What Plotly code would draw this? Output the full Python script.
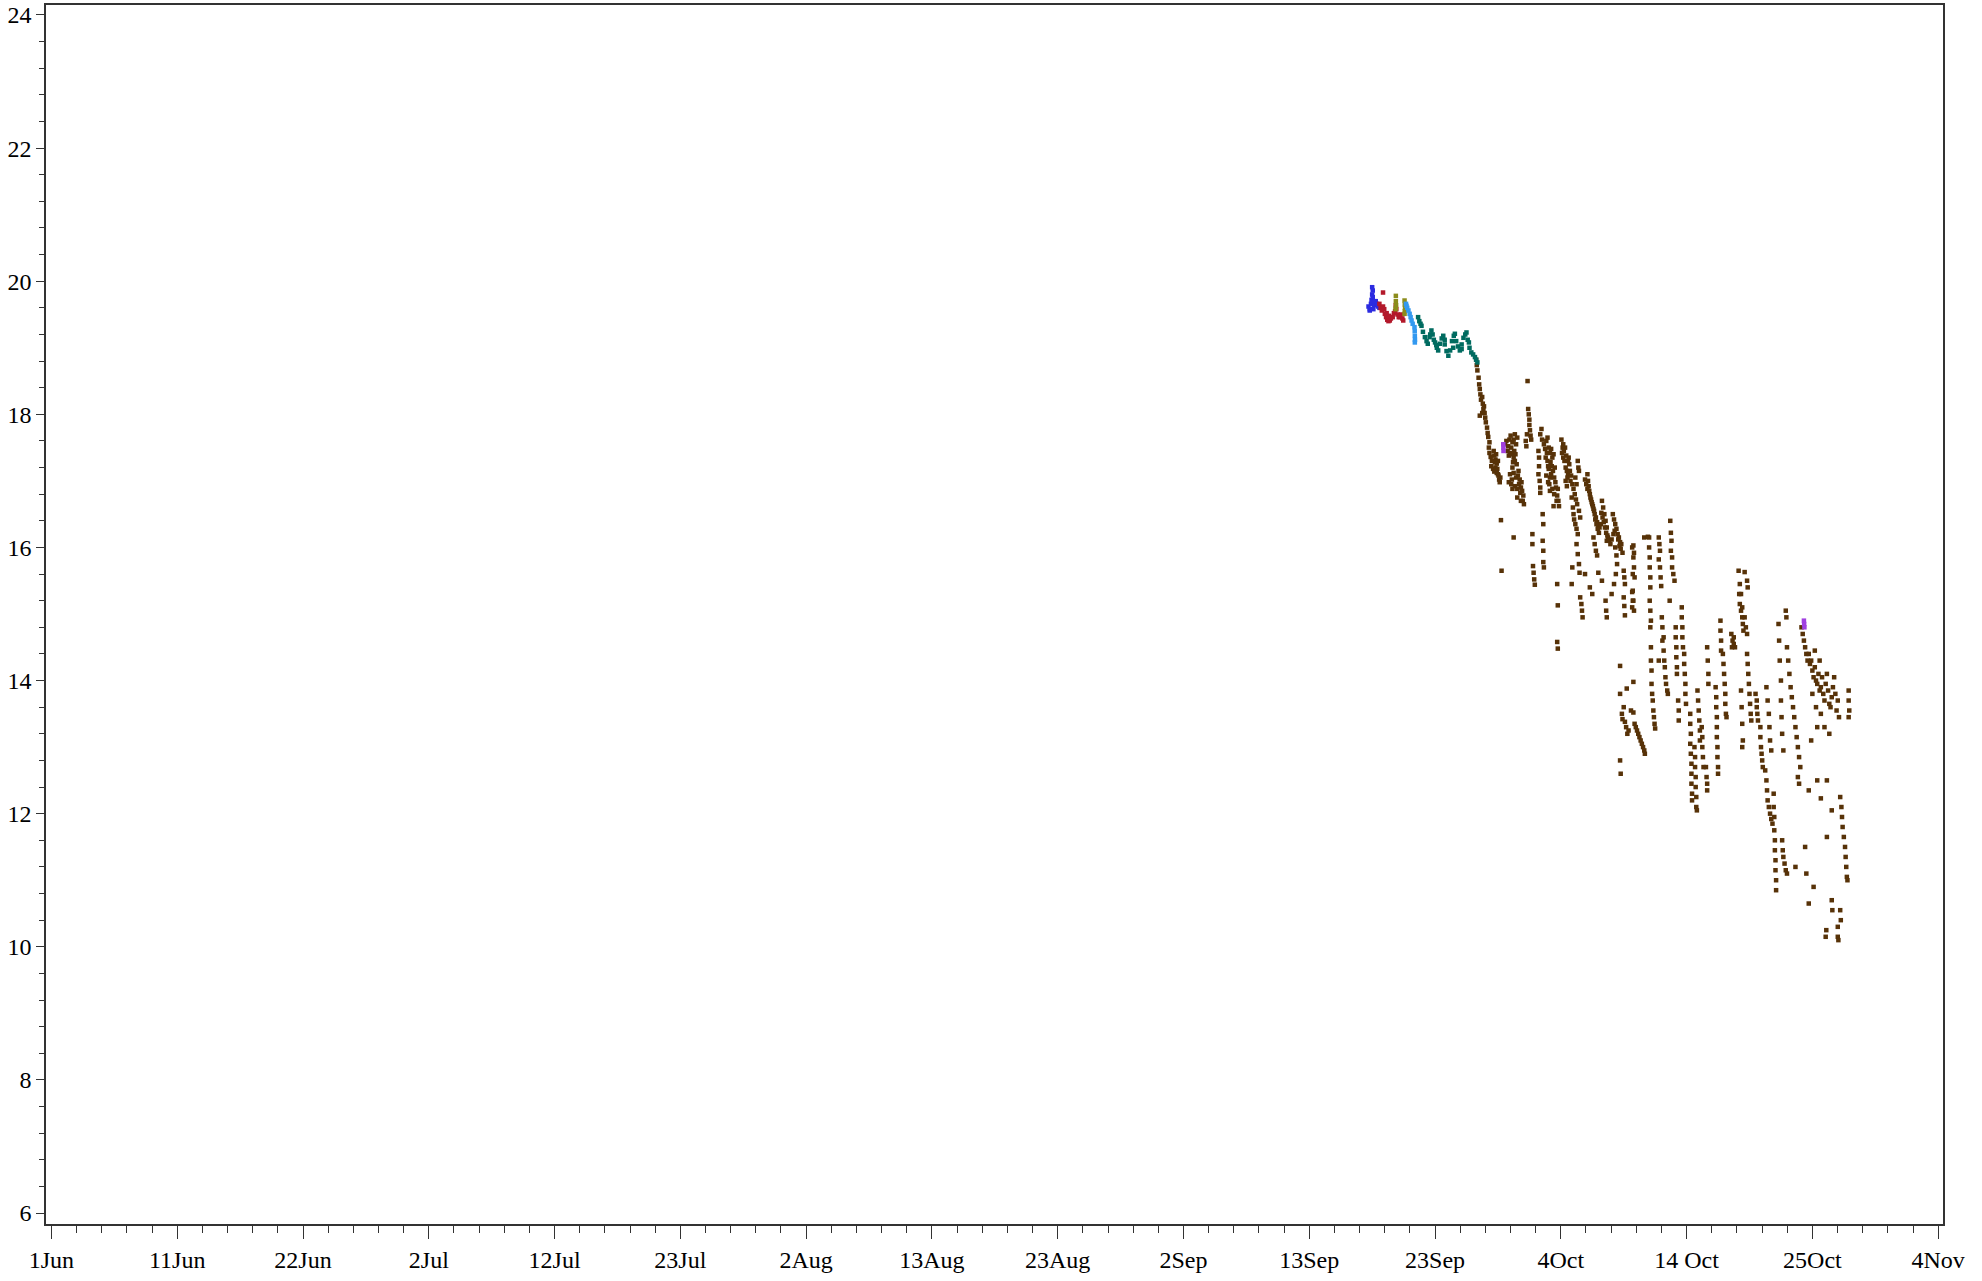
import plotly.graph_objects as go

# x = days since 1 Jun, y = value
tick_labels = ["1Jun", "11Jun", "22Jun", "2Jul", "12Jul", "23Jul", "2Aug", "13Aug",
               "23Aug", "2Sep", "13Sep", "23Sep", "4Oct", "14 Oct", "25Oct", "4Nov"]
tick_positions = [0, 10.4, 20.8, 31.2, 41.6, 52, 62.4, 72.8, 83.2, 93.6, 104, 114.4,
                  124.8, 135.2, 145.6, 156]

blue_x = [108.9, 109.0, 109.1, 109.15, 109.2, 109.25, 109.2, 109.25, 109.3, 109.35,
          109.45, 109.5, 109.6, 109.7, 109.8, 109.0, 109.3, 109.4]
blue_y = [19.62, 19.58, 19.66, 19.72, 19.8, 19.86, 19.91, 19.76, 19.68, 19.64,
          19.66, 19.7, 19.66, 19.62, 19.6, 19.56, 19.58, 19.7]

red_x = [109.8, 109.9, 110.0, 110.1, 110.1, 110.25, 110.35, 110.45, 110.55, 110.66,
         110.75, 110.9, 111.0, 111.1, 111.2, 111.3, 111.4, 111.5, 111.6, 111.7,
         111.77, 110.2, 110.4, 110.6, 111.15]
red_y = [19.66, 19.6, 19.56, 19.62, 19.83, 19.51, 19.46, 19.42, 19.4, 19.41,
         19.44, 19.46, 19.52, 19.55, 19.58, 19.5, 19.46, 19.46, 19.5, 19.44,
         19.41, 19.58, 19.52, 19.48, 19.64]

olive_x = [111.16, 111.16, 111.18, 111.16, 111.14, 111.88, 111.9, 111.92, 111.9, 111.88]
olive_y = [19.78, 19.7, 19.64, 19.6, 19.58, 19.71, 19.65, 19.6, 19.55, 19.51]

lblue_x = [112.0, 112.04, 112.1, 112.2, 112.3, 112.38, 112.46, 112.55, 112.7, 112.72,
           112.73, 112.74, 112.73]
lblue_y = [19.66, 19.63, 19.6, 19.56, 19.51, 19.46, 19.41, 19.36, 19.31, 19.25,
           19.18, 19.12, 19.08]

teal_x = [113.0, 113.1, 113.2, 113.28, 113.4, 113.56, 113.7, 113.8, 113.95, 114.1,
          114.2, 114.3, 114.4, 114.55, 114.66, 114.8, 114.95, 115.08, 115.2, 115.35,
          115.5, 115.65, 115.8, 115.95, 116.04, 116.15, 116.3, 116.45, 116.6, 116.75,
          116.9, 117.0, 117.1, 117.25, 117.4, 117.55, 117.7, 117.8, 117.9, 114.0,
          114.5, 115.2, 115.9, 116.6, 117.2]
teal_y = [19.46, 19.4, 19.36, 19.33, 19.24, 19.16, 19.1, 19.06, 19.16, 19.26,
          19.2, 19.12, 19.08, 19.0, 18.96, 19.06, 19.14, 19.18, 19.05, 18.95,
          18.88, 18.96, 19.1, 19.18, 19.21, 19.1, 19.02, 18.96, 19.05, 19.15,
          19.2, 19.23, 19.12, 19.0, 18.93, 18.9, 18.86, 18.82, 18.78, 19.2,
          19.04, 19.12, 19.0, 18.98, 19.08]

purple_x = [120.04, 120.05, 120.06, 144.9, 144.92, 144.94]
purple_y = [17.55, 17.5, 17.45, 14.9, 14.85, 14.8]

brown_x = [
    117.8, 117.85, 117.9, 118.0, 118.05, 118.1, 118.15, 118.2, 118.3, 118.35,
    118.4, 118.45, 118.5, 118.55, 118.6, 118.3, 118.7, 118.75, 118.8, 118.9,
    118.85, 118.9, 119.0, 119.1, 119.05, 119.2, 119.3, 119.4, 119.5, 119.35,
    119.6, 119.45, 118.1,
    120.2, 120.4, 120.5, 120.6, 120.7, 120.8, 120.9, 121.0, 121.1, 121.2,
    120.9, 121.0, 120.8, 120.9, 121.1, 121.3, 121.4, 121.5, 121.6, 121.7,
    121.5, 120.7, 120.8, 121.2,
    119.85, 119.9, 120.9, 122.05,
    122.1, 122.15, 122.2, 122.2, 122.25, 122.3, 122.35, 122.0, 121.9, 121.95,
    122.45, 122.45, 122.5, 122.55, 122.6, 122.65,
    123.2, 122.95, 123.0, 123.0, 122.95, 123.05, 123.1, 123.1, 123.3, 123.35,
    123.3, 123.35, 123.35, 123.4,
    123.6, 123.7, 123.8, 123.9, 124.0, 124.1, 124.2, 123.7, 123.8, 123.9,
    123.85, 124.0, 124.3, 124.4, 124.5, 124.45, 123.9, 124.2,
    124.5, 124.55, 124.5, 124.55,
    124.9, 125.0, 125.1, 125.0, 125.15, 125.2, 125.3, 125.4, 125.5, 125.35,
    125.6, 125.45,
    125.7, 125.8, 125.85, 125.9, 126.0, 126.1, 126.2, 125.75, 125.7,
    126.4, 126.5, 126.55, 126.6,
    126.2, 126.25, 126.3,
    126.1, 126.2, 126.3, 126.35,
    127.0, 127.05, 127.1, 127.15, 127.2, 127.3, 127.4, 127.5, 127.6, 127.7,
    127.8, 127.9, 128.0, 127.5, 127.6, 127.7, 127.8, 128.2, 128.3, 128.4,
    128.5, 128.6, 128.7, 128.6,
    129.1, 129.2, 129.3, 129.4, 129.5, 129.6, 129.7, 129.8, 129.3, 129.4,
    129.45, 130.0, 130.05, 130.1, 130.0, 130.05, 130.1, 130.7, 130.75, 130.7,
    130.8, 130.85, 130.75,
    129.7, 129.7, 129.7, 129.75,
    129.85, 129.9, 130.0, 130.1, 130.2, 130.3, 130.4, 130.6, 130.8, 130.9,
    131.0, 131.1, 131.2, 131.3, 131.4, 131.5, 131.6, 131.7, 131.75,
    130.8, 130.25,
    130.7, 130.8, 130.85, 130.9, 130.75, 130.8, 130.85,
    131.7, 132.0,
    132.1, 132.1, 132.15, 132.15, 132.2, 132.2, 132.15, 132.2, 132.25, 132.2,
    132.25, 132.25, 132.3, 132.3, 132.35, 132.4, 132.45, 132.5, 132.55, 132.6,
    132.9, 132.95, 133.0, 132.9, 133.0, 133.05, 133.1, 133.15, 133.2, 133.2,
    133.3, 133.35, 133.4, 133.45, 133.5, 133.6, 133.65, 132.9, 133.3,
    133.85, 133.9, 133.95, 133.9, 134.0, 134.0, 134.1, 134.2, 133.8,
    134.3, 134.3, 134.35, 134.35, 134.4, 134.4, 134.5, 134.55, 134.55, 134.8,
    134.8, 134.85, 134.85, 134.9, 135.0, 135.0, 135.05, 135.1, 135.1, 135.15,
    135.5, 135.5, 135.55, 135.5, 135.55, 135.6, 135.6, 135.6, 135.65, 135.65,
    135.85, 135.9, 135.9, 135.95, 135.95, 136.0, 136.0, 136.05, 136.1, 136.15,
    136.2, 136.25, 136.3, 136.3,
    136.45, 136.5, 136.5, 136.55, 136.6, 136.8, 136.85, 136.9, 136.9,
    136.9, 136.95, 137.0, 137.0,
    137.6, 137.65, 137.65, 137.7, 137.7, 137.7, 137.75, 137.75, 137.8, 137.8,
    138.0, 138.0, 138.05, 138.05, 138.2, 138.25, 138.3, 138.35, 138.4, 138.4,
    138.45, 138.5,
    138.9, 139.0, 139.1, 139.2, 138.95, 139.1,
    139.5, 139.6, 139.55, 139.6, 139.7, 139.8, 139.85, 139.9, 140.0, 140.2, 140.25,
    139.7, 139.75, 139.8, 139.85, 139.8,
    139.7, 139.8, 140.0, 140.1, 140.2,
    140.2, 140.25, 140.3, 140.35, 140.4, 140.45, 140.5, 140.55,
    140.9, 141.0, 141.0, 141.05, 141.1, 141.3, 141.3, 141.35, 141.4, 141.45, 141.5,
    141.7, 141.8, 141.85, 141.9, 142.0, 142.1, 142.2, 142.3,
    142.4, 142.4, 142.45, 142.45, 142.5, 142.5, 142.55, 142.55, 142.6, 142.6,
    143.1, 143.15, 143.2, 143.3, 143.4, 143.5,
    141.8, 141.9, 142.0, 142.05, 142.1, 142.2,
    142.8, 142.85, 142.9, 143.0, 143.0, 143.05, 143.1, 143.2,
    143.4, 143.45, 143.5, 143.6, 143.7, 143.8, 143.9, 144.0, 144.1, 144.2,
    144.3, 144.4, 144.5, 144.6, 144.4, 144.5,
    144.7, 144.8, 144.9, 145.0, 145.1, 145.2, 145.4,
    145.3, 145.5, 145.6, 145.7, 145.8, 145.9, 146.0, 146.1, 146.2, 146.3,
    146.4, 146.5, 146.6, 146.7, 146.8, 146.9, 147.0, 147.1, 147.2, 147.3,
    147.4, 147.5, 147.6, 147.7, 147.8, 145.6, 145.9, 146.3, 146.0, 145.5,
    146.6, 147.0, 146.2, 145.8,
    148.6, 148.6, 148.65, 148.6,
    147.9, 148.0, 148.05, 148.1, 148.2, 148.3, 148.35, 148.4, 148.45, 148.5,
    145.0, 144.2, 145.1, 145.7, 145.3, 146.3, 146.8, 145.3, 146.0, 147.2, 146.8,
    147.2, 147.25, 146.7, 146.75, 147.7, 147.75, 147.7, 147.9, 147.95,
    # denser clusters
    119.25, 119.3, 119.4, 119.5, 119.55, 119.65, 119.7, 119.75, 119.6, 119.8,
    120.3, 120.45, 120.55, 120.65, 120.75, 120.85, 120.95, 121.05, 121.15, 121.25,
    121.35, 121.45, 121.55, 121.65, 121.75, 120.6, 120.75, 121.0, 121.2, 120.5,
    123.1, 123.25, 123.4, 123.5, 123.55, 123.65, 123.75, 123.95, 124.05, 124.15,
    124.25, 124.35, 124.1, 124.25, 123.6, 123.75, 124.55, 124.6, 124.65,
    124.85, 124.95, 125.05, 125.25, 125.4, 125.55, 125.65, 125.75, 125.85, 125.95,
    126.05, 126.15, 126.3, 126.4, 125.2, 125.3, 126.0, 126.1,
    126.8, 126.9, 127.0, 127.25, 127.35, 127.45, 127.55, 127.65, 127.75, 127.85,
    127.95, 128.1, 128.15, 128.25, 128.35, 128.45, 128.55, 128.65, 128.8, 128.9,
    129.0, 129.15, 129.25, 129.55, 129.65, 129.75, 129.9,
    126.8, 127.2, 127.4, 127.9, 128.2, 128.5, 128.55, 128.6, 129.0, 129.2, 129.35,
]
brown_y = [
    18.82, 18.74, 18.66, 18.55, 18.45, 18.38, 18.3, 18.22, 18.26, 18.16,
    18.08, 18.12, 18.02, 17.95, 17.88, 18.02, 17.8, 17.72, 17.66, 17.58,
    17.5, 17.42, 17.36, 17.3, 17.22, 17.18, 17.14, 17.2, 17.12, 17.28,
    17.1, 17.4, 17.98,
    17.55, 17.45, 17.38, 17.42, 17.5, 17.58, 17.62, 17.7, 17.55, 17.65,
    17.35, 17.3, 17.2, 17.12, 17.05, 17.15, 17.02, 16.9, 16.85, 16.78,
    16.7, 16.95, 16.88, 16.75,
    16.41, 15.65, 16.15, 18.5,
    18.08, 18.0, 17.92, 17.84, 17.76, 17.68, 17.62, 17.7, 17.6, 17.52,
    16.2, 16.05, 15.72, 15.62, 15.52, 15.44,
    17.78, 17.45, 17.35, 17.22, 17.1, 17.0, 16.9, 16.82, 16.5, 16.35,
    16.1, 15.95, 15.78, 15.7,
    17.6, 17.65, 17.5, 17.42, 17.48, 17.35, 17.4, 17.3, 17.18, 17.05,
    16.95, 17.1, 17.2, 16.9, 16.78, 16.7, 16.85, 16.62,
    15.45, 15.13, 14.58, 14.48,
    17.42, 17.35, 17.3, 17.55, 17.5, 17.2, 17.15, 17.1, 17.25, 17.05,
    17.0, 17.35,
    16.75, 16.6, 16.5, 16.42, 16.35, 16.28, 16.2, 15.7, 15.45,
    15.25, 15.15, 15.05, 14.95,
    17.3, 17.2, 17.15,
    16.05, 15.9, 15.75, 15.62,
    17.1, 17.0, 16.92, 16.85, 16.8, 16.72, 16.65, 16.58, 16.5, 16.45,
    16.38, 16.32, 16.3, 16.15, 16.05, 15.95, 15.88, 16.7, 16.6, 16.5,
    16.4, 16.3, 16.15, 16.1,
    16.5, 16.42, 16.35, 16.28, 16.2, 16.15, 16.08, 16.05, 16.0, 15.88,
    15.75, 15.65, 15.55, 15.45, 15.25, 15.12, 14.98, 15.33, 15.2, 15.1,
    16.03, 15.92, 15.6,
    14.22, 13.8, 12.8, 12.6,
    13.5, 13.42, 13.6, 13.38, 13.3, 13.2, 13.25, 13.55, 13.52, 13.35,
    13.3, 13.25, 13.2, 13.15, 13.1, 13.05, 13.0, 12.95, 12.9,
    13.98, 13.88,
    16.0, 15.85, 15.7, 15.55, 15.35, 15.2, 15.05,
    16.15, 16.16,
    16.15, 16.0, 15.85, 15.7, 15.55, 15.4, 15.2, 15.05, 14.9, 14.8,
    14.5, 14.3, 14.15, 13.95, 13.8, 13.7, 13.55, 13.45, 13.35, 13.28,
    16.15, 16.05, 15.95, 15.82, 15.7, 15.55, 15.42, 14.95, 14.8, 14.6,
    14.45, 14.3, 14.2, 14.05, 13.95, 13.85, 13.8, 14.3, 14.65,
    16.4, 16.22, 16.1, 15.95, 15.85, 15.7, 15.6, 15.5, 15.2,
    14.8, 14.65, 14.5, 14.35, 14.2, 14.1, 13.7, 13.55, 13.4, 15.1,
    14.95, 14.8, 14.65, 14.5, 14.4, 14.25, 14.1, 13.95, 13.8, 13.65,
    13.5, 13.35, 13.2, 13.05, 12.9, 12.75, 12.6, 12.45, 12.3, 12.2,
    13.0, 12.85, 12.7, 12.55, 12.4, 12.25, 12.1, 12.05, 13.85, 13.7,
    13.55, 13.4, 13.25, 13.1,
    13.3, 13.15, 13.0, 12.85, 12.7, 12.7, 12.55, 12.45, 12.35,
    14.5, 14.3, 14.1, 13.95,
    13.9, 13.75, 13.6, 13.45, 13.3, 13.15, 13.0, 12.85, 12.7, 12.6,
    14.9, 14.75, 14.6, 14.45, 14.4, 14.25, 14.1, 13.95, 13.8, 13.65,
    13.5, 13.45,
    14.7, 14.6, 14.55, 14.5, 14.5, 14.65,
    15.65, 15.45, 15.3, 15.15, 15.05, 14.95, 14.85, 14.75, 15.63, 15.5, 15.4,
    13.85, 13.6, 13.35, 13.1, 13.0,
    15.3, 15.1, 14.95, 14.8, 14.7,
    14.4, 14.25, 14.1, 13.95, 13.8, 13.65, 13.5, 13.4,
    13.8, 13.7, 13.6, 13.5, 13.4, 13.3, 13.15, 13.0, 12.9, 12.8, 12.7,
    12.65, 12.5, 12.35, 12.2, 12.1, 12.0, 11.92, 11.85,
    12.3, 12.1, 11.95, 11.75, 11.6, 11.45, 11.3, 11.15, 11.0, 10.85,
    11.6, 11.45, 11.35, 11.25, 11.15, 11.1,
    13.9, 13.7, 13.5, 13.3, 13.1, 12.95,
    14.85, 14.6, 14.3, 14.0, 13.7, 13.45, 13.2, 12.95,
    15.05, 14.95, 14.5, 14.3, 14.1, 13.9, 13.75, 13.6, 13.45, 13.3,
    13.15, 13.0, 12.85, 12.7, 12.55, 12.45,
    14.8, 14.7, 14.6, 14.5, 14.4, 14.3, 14.25,
    14.4, 14.3, 14.15, 14.05, 14.2, 14.0, 13.95, 14.1, 13.85, 13.9,
    14.05, 13.8, 13.7, 13.95, 14.1, 13.85, 13.65, 13.6, 13.75, 13.9,
    14.05, 13.8, 13.55, 13.7, 13.45, 13.8, 13.6, 13.5, 13.3, 13.1,
    13.3, 13.2, 14.3, 14.45,
    13.85, 13.7, 13.55, 13.45,
    12.25, 12.1, 11.95, 11.8, 11.65, 11.5, 11.35, 11.2, 11.05, 11.0,
    11.5, 11.2, 11.1, 10.9, 10.65, 12.23, 12.5, 12.35, 12.5, 12.05, 11.65,
    10.7, 10.55, 10.15, 10.25, 10.15, 10.1, 10.3, 10.55, 10.4,
    # denser clusters
    17.45, 17.38, 17.32, 17.26, 17.18, 17.08, 17.02, 16.98, 17.3, 17.05,
    17.6, 17.52, 17.62, 17.68, 17.4, 17.28, 17.45, 17.4, 17.25, 17.08,
    16.95, 16.82, 16.98, 16.7, 16.65, 17.1, 17.02, 16.92, 16.88, 16.98,
    17.7, 17.62, 17.55, 17.48, 17.35, 17.42, 17.22, 17.28, 17.22, 17.15,
    17.05, 16.98, 16.88, 16.8, 17.08, 16.98, 16.88, 16.7, 16.62,
    17.62, 17.5, 17.45, 17.38, 17.3, 17.15, 17.08, 16.95, 16.88, 16.8,
    16.72, 16.65, 16.55, 16.45, 17.0, 16.92, 17.05, 16.95,
    17.02, 16.95, 16.88, 16.75, 16.68, 16.62, 16.55, 16.42, 16.35, 16.28,
    16.22, 16.35, 16.52, 16.45, 16.38, 16.3, 16.22, 16.18, 16.1, 16.05,
    16.12, 16.2, 16.25, 16.12, 16.02, 15.98, 15.92,
    15.6, 15.4, 15.3, 15.62, 15.5, 15.2, 15.05, 14.95, 15.3, 15.45, 15.6,
]

series = [
    ("brown", brown_x, brown_y, "#573208"),
    ("blue", blue_x, blue_y, "#2b2be0"),
    ("red", red_x, red_y, "#b3192b"),
    ("olive", olive_x, olive_y, "#8c8c1c"),
    ("lightblue", lblue_x, lblue_y, "#3399f0"),
    ("teal", teal_x, teal_y, "#006b60"),
    ("purple", purple_x, purple_y, "#a040e0"),
]

fig = go.Figure()
for name, xs, ys, col in series:
    fig.add_trace(go.Scatter(x=xs, y=ys, mode="markers", name=name,
                             marker=dict(color=col, size=4.5, symbol="square", line=dict(width=0)),
                             showlegend=False))

font = dict(family="Liberation Serif", size=24, color="black")
fig.update_layout(
    width=1982, height=1281,
    margin=dict(l=46, r=39, t=5, b=57),
    paper_bgcolor="white", plot_bgcolor="white",
    font=font,
    showlegend=False,
)
fig.update_xaxes(
    range=[-0.45, 156.4], tickmode="array", tickvals=tick_positions, ticktext=tick_labels,
    ticks="outside", ticklen=13, tickwidth=1.3, tickcolor="#333",
    showline=True, linecolor="#333", linewidth=1.6, mirror=True, automargin=False,
    showgrid=False, zeroline=False, tickfont=font,
    minor=dict(ticks="outside", ticklen=7, tickwidth=1.2, tickcolor="#333",
               tickmode="linear", tick0=0, dtick=2.08, showgrid=False),
)
fig.update_yaxes(
    range=[5.835, 24.15], tickmode="linear", tick0=6, dtick=2,
    ticks="outside", ticklen=8, tickwidth=1.3, tickcolor="#333",
    showline=True, linecolor="#333", linewidth=1.6, mirror=True, automargin=False,
    showgrid=False, zeroline=False, tickfont=font,
    minor=dict(ticks="outside", ticklen=5, tickwidth=1.2, tickcolor="#333",
               tickmode="linear", tick0=6, dtick=0.4, showgrid=False),
)

fig.write_html("out.html", config={"displayModeBar": False},
               post_script="document.body.style.margin='0';")
